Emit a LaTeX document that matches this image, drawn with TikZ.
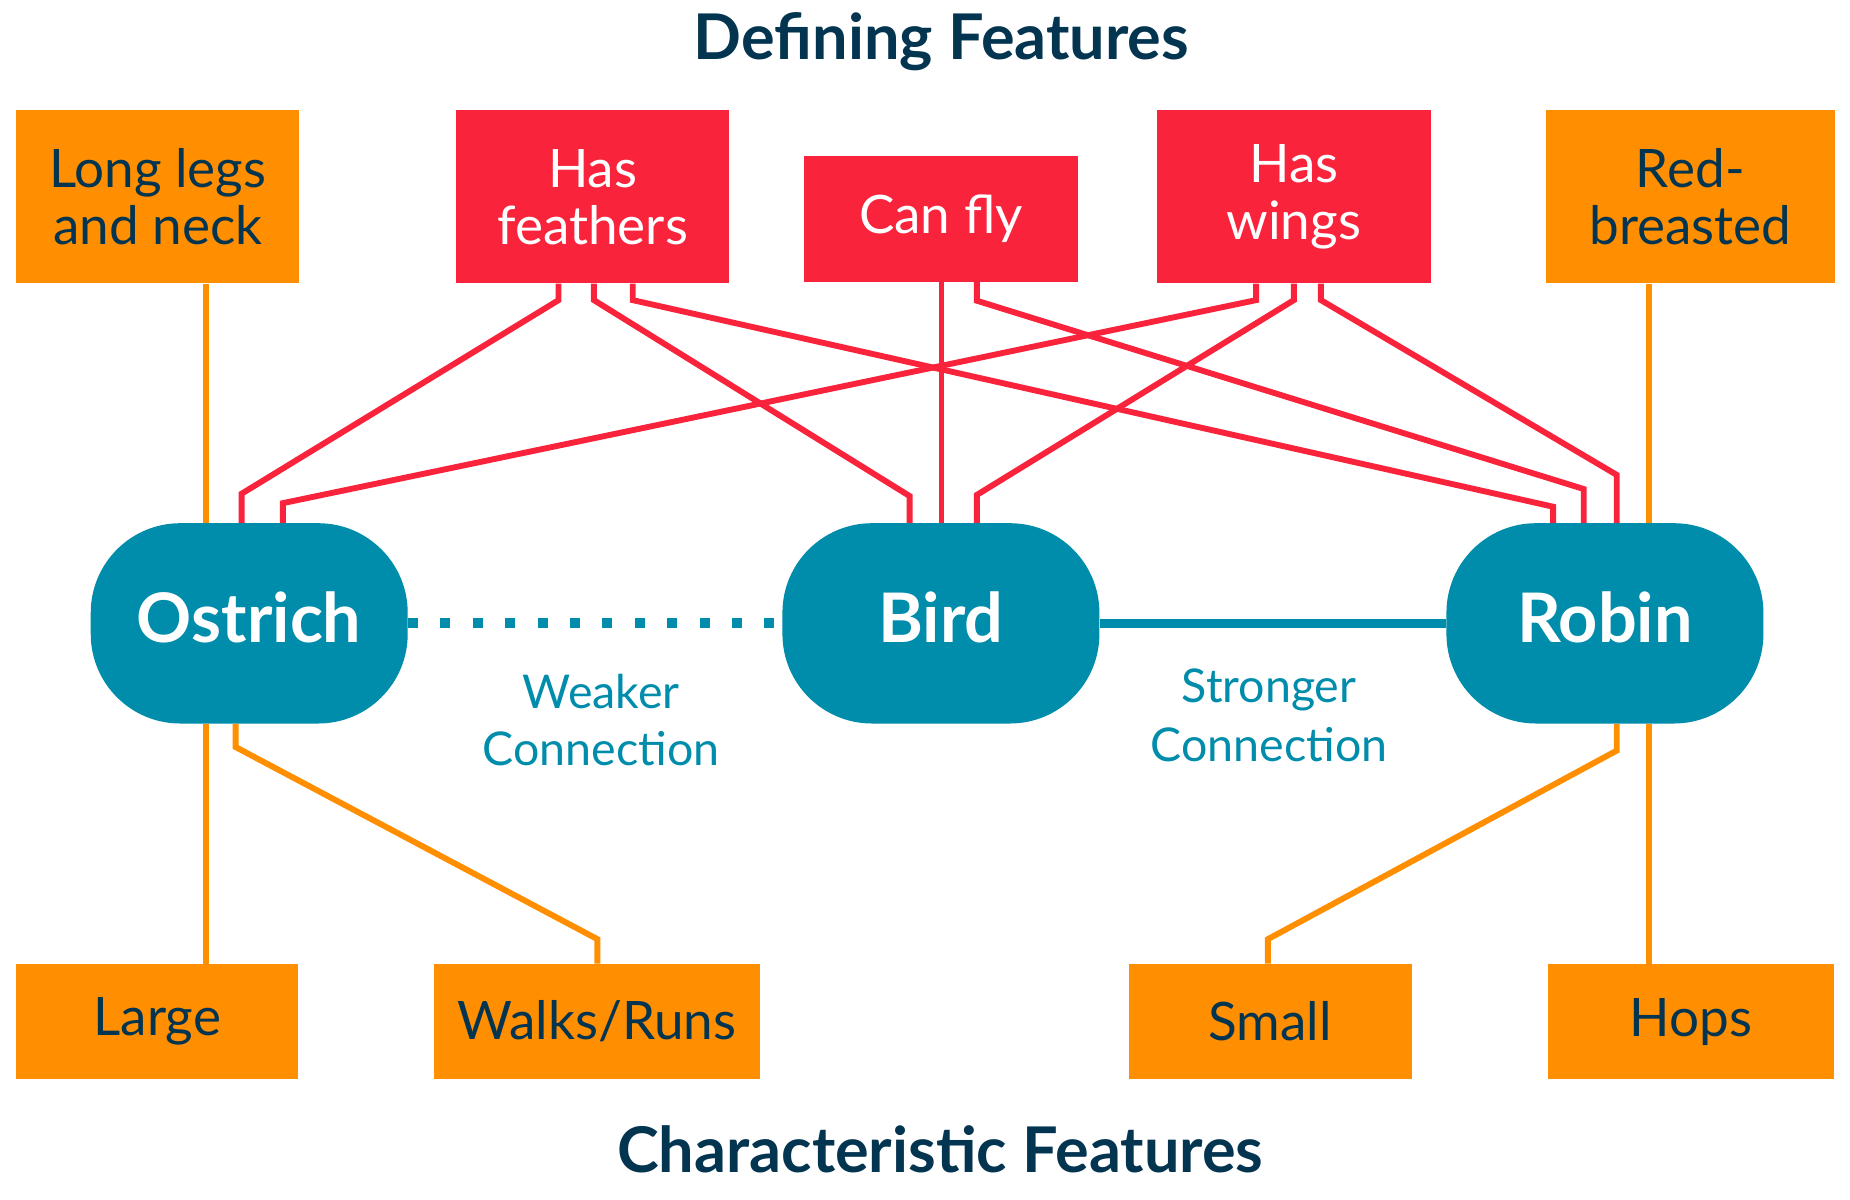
\documentclass[tikz,border=0pt]{standalone}
\usepackage{fontspec}
\setmainfont{Lato}
\definecolor{featred}{HTML}{FA233C}
\definecolor{featorange}{HTML}{FF8E00}
\definecolor{birdteal}{HTML}{008CAB}
\definecolor{navytext}{HTML}{033450}

\begin{document}
\begin{tikzpicture}[x = 1pt, y = -1pt,
  featbox/.style = {shape = rectangle, inner sep = 0pt, align = center, font = \fontsize{45}{48.5}\selectfont},
  charbox/.style = {featbox, fill = featorange, text = navytext},
  defbox/.style = {featbox, fill = featred, text = white},
  animal/.style = {shape = rectangle, rounded corners = 76pt, fill = birdteal, text = white, minimum width = 269pt, minimum height = 170pt, font = \bfseries\fontsize{58}{62}\selectfont, text depth = 11pt},
  heading/.style = {anchor = base, text = navytext, font = \bfseries\fontsize{53.5}{60}\selectfont},
  linklabel/.style = {align = center, text = birdteal, inner sep = 0pt},
  redwire/.style = {draw = featred, line width = 5pt},
  orangewire/.style = {draw = featorange, line width = 5pt}
]
\useasboundingbox (0,0) rectangle (1570,1018);

% headings
\node[heading] (defining) at (799,50.4) {Defining Features};
\node[heading] (characteristic) at (798,995) {Characteristic Features};

% feature boxes, top row
\node[charbox, minimum width = 240pt, minimum height = 147pt] (longlegs) at (134,167) {Long legs\\and neck};
\node[defbox, minimum width = 232pt, minimum height = 147pt] (feathers) at (503,167) {Has\\feathers};
\node[defbox, minimum width = 233pt, minimum height = 107pt] (canfly) at (798.5,185.5) {Can fly};
\node[defbox, minimum width = 232pt, minimum height = 147pt] (wings) at (1098,167) {Has\\wings};
\node[charbox, minimum width = 245pt, minimum height = 147pt] (redbreast) at (1434.5,167) {Red-\\breasted};

% animals
\node[animal] (ostrich) at (211.5,529) {Ostrich};
\node[animal] (bird) at (798.5,529) {Bird};
\node[animal] (robin) at (1362,529) {Robin};

% feature boxes, bottom row
\node[charbox, minimum width = 239pt, minimum height = 98pt] (large) at (133.5,867) {Large};
\node[charbox, minimum width = 277pt, minimum height = 98pt] (walks) at (506.5,867) {Walks/Runs};
\node[charbox, minimum width = 240pt, minimum height = 98pt] (small) at (1078,867) {Small};
\node[charbox, minimum width = 243pt, minimum height = 98pt] (hops) at (1435,867) {Hops};

% connections between the animals
\draw[draw = birdteal, line width = 8.5pt, dash pattern = on 8.5pt off 19pt] (ostrich.east) -- (bird.west);
\draw[draw = birdteal, line width = 8pt] (bird.east) -- (robin.west);
\node[linklabel, font = \fontsize{39.5}{48}\selectfont] (weaker) at (510,611) {Weaker\\Connection};
\node[linklabel, font = \fontsize{39.5}{50}\selectfont] (stronger) at (1077,607) {Stronger\\Connection};

% defining features
\draw[redwire] (feathers.south -| 474,0) -- ++(0,14) -- (205,419) -- (205,419 |- ostrich.north);
\draw[redwire] (feathers.south -| 504,0) -- ++(0,14) -- (772,421) -- (772,421 |- bird.north);
\draw[redwire] (feathers.south -| 537,0) -- ++(0,14) -- (1318,430) -- (1318,430 |- robin.north);
\draw[redwire] (canfly.south -| 799,0) -- (799,0 |- bird.north);
\draw[redwire] (canfly.south -| 829,0) -- ++(0,16) -- (1344,415) -- (1344,415 |- robin.north);
\draw[redwire] (wings.south -| 1066,0) -- ++(0,14) -- (240,427) -- (240,427 |- ostrich.north);
\draw[redwire] (wings.south -| 1098,0) -- ++(0,14) -- (829,420) -- (829,420 |- bird.north);
\draw[redwire] (wings.south -| 1121,0) -- ++(0,14) -- (1372,403) -- (1372,403 |- robin.north);

% characteristic features
\draw[orangewire] (longlegs.south -| 175,0) -- (175,0 |- ostrich.north);
\draw[orangewire] (redbreast.south -| 1399.5,0) -- (1399.5,0 |- robin.north);
\draw[orangewire] (ostrich.south -| 175,0) -- (175,0 |- large.north);
\draw[orangewire] (ostrich.south -| 200,0) -- (200,634) -- (507,797) -- (507,797 |- walks.north);
\draw[orangewire] (robin.south -| 1372,0) -- (1372,637) -- (1076,797) -- (1076,797 |- small.north);
\draw[orangewire] (robin.south -| 1399.5,0) -- (1399.5,0 |- hops.north);
\end{tikzpicture}
\end{document}
